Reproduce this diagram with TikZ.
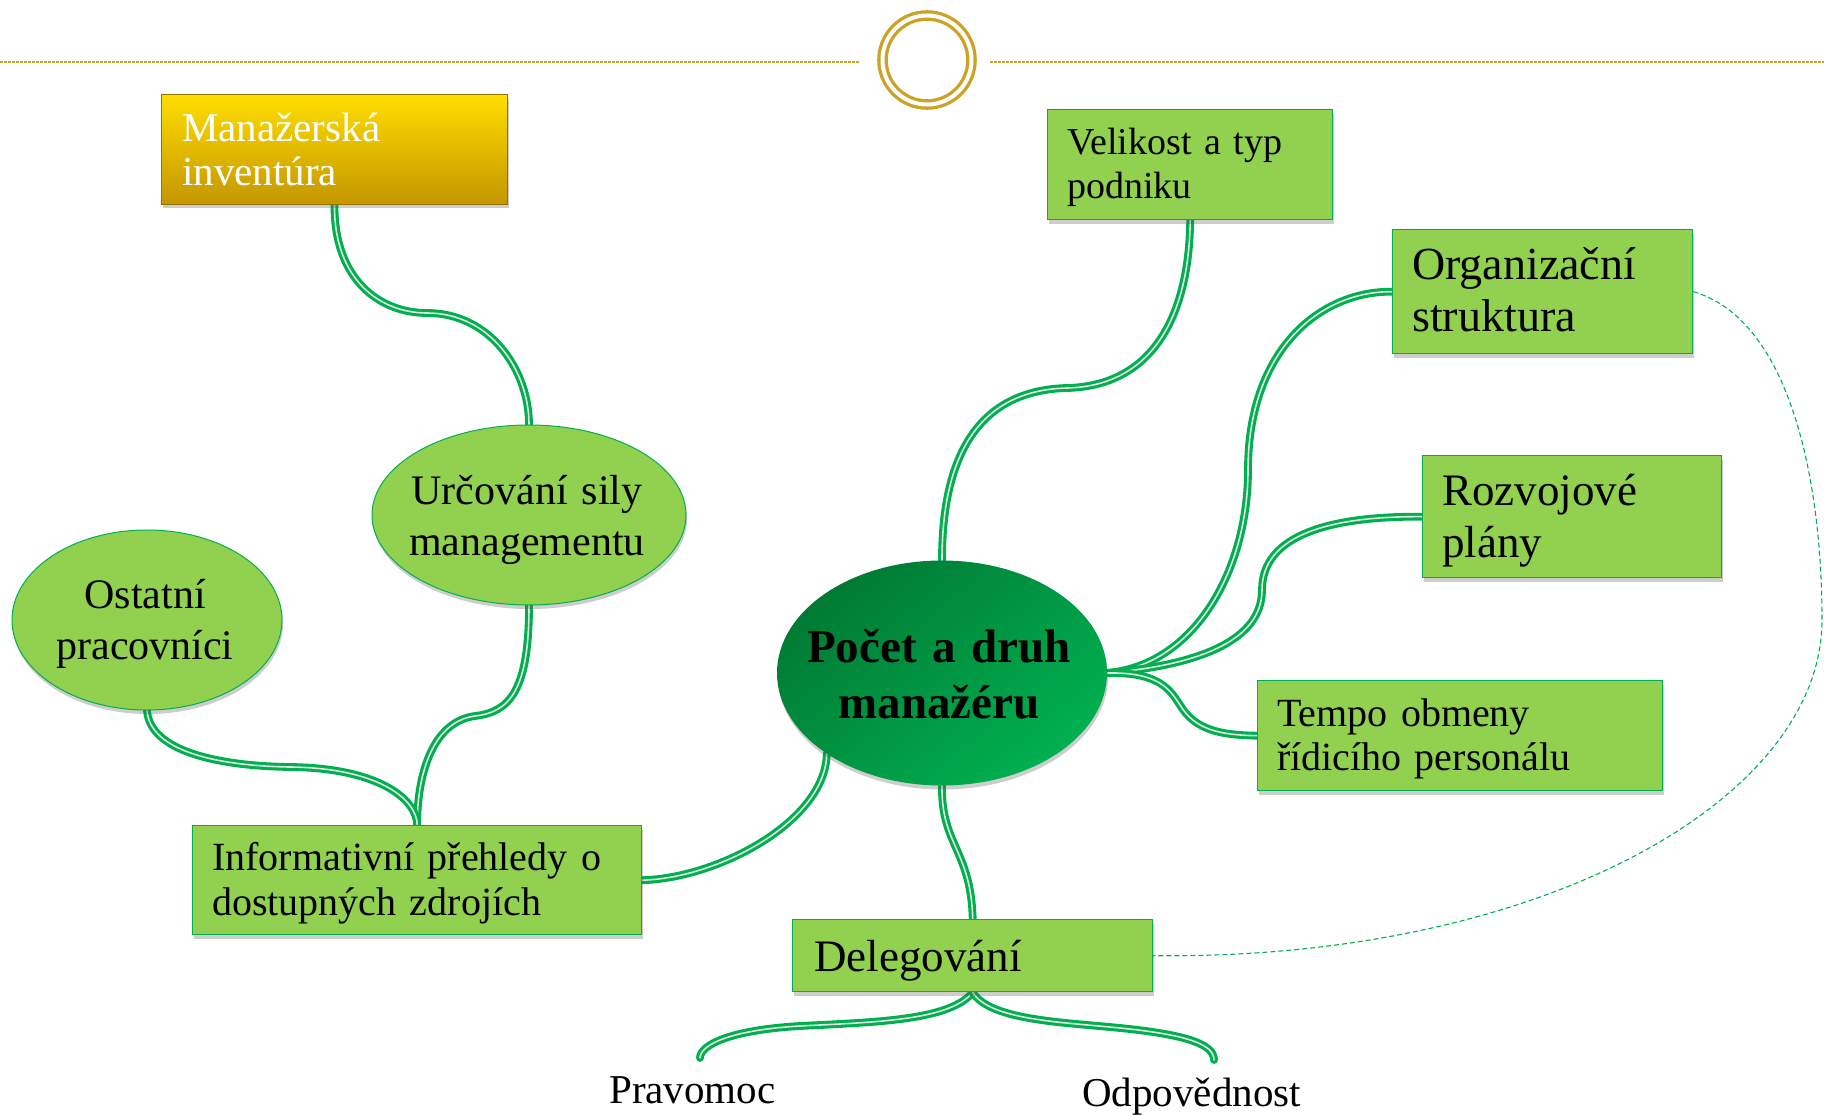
\documentclass[tikz,border=0pt]{standalone}
\usepackage{fontspec}
\setmainfont{Liberation Serif}
\usetikzlibrary{shapes.geometric,shadows}
\pgfdeclarelayer{paper}
\pgfdeclarelayer{stems}
\pgfsetlayers{paper,stems,main}

\definecolor{leaf}{RGB}{146,208,80}
\definecolor{stem}{RGB}{0,176,80}
\definecolor{hubdark}{RGB}{0,122,52}
\definecolor{gold}{RGB}{204,163,38}
\definecolor{goldtop}{RGB}{255,222,0}
\definecolor{goldbot}{RGB}{196,150,0}
\definecolor{goldedge}{RGB}{150,115,0}
\definecolor{vein}{RGB}{224,228,224}

\newcommand\setfs[2]{\fontsize{#1}{#2}\selectfont}

\begin{document}
\begin{tikzpicture}[x=1pt,y=-1pt,
  softshadow/.style={drop shadow={shadow xshift=1pt,shadow yshift=-4pt,opacity=.28,fill=black!70}},
  leafbox/.style={rectangle,draw=stem,line width=1.4pt,fill=leaf,inner sep=0pt,anchor=north west,softshadow},
  goldbox/.style={rectangle,draw=goldedge,line width=1pt,top color=goldtop,bottom color=goldbot,inner sep=0pt,anchor=north west,softshadow},
  leafoval/.style={ellipse,draw=stem,line width=1pt,fill=leaf,inner sep=0pt,softshadow},
  huboval/.style={ellipse,inner sep=0pt,top color=hubdark,bottom color=stem,shading angle=40,softshadow},
  lefttext/.style={inner sep=0pt,align=left,anchor=base west},
  midtext/.style={inner sep=0pt,align=center,anchor=base},
  branch/.style={draw=vein,line width=1.6pt,line cap=round,preaction={draw=stem,line width=7.8pt,line cap=round}},
  crosslink/.style={draw=stem,line width=1.1pt,dash pattern=on 5pt off 3pt},
  goldrule/.style={draw=gold,line width=2.4pt,dash pattern=on 3pt off 1pt}
]
\begin{pgfonlayer}{paper}
  \fill[white] (0,0) rectangle (1824,1115);
\end{pgfonlayer}
\useasboundingbox (0,0) rectangle (1824,1115);

% header rule with the ring ornament
\node[circle,draw=gold,line width=3.3pt,double=white,double distance=4pt,minimum size=89pt,inner sep=0pt] (ring) at (927,60) {};
\coordinate (ruleL0) at (0,62);
\coordinate (ruleL1) at (860,62);
\coordinate (ruleR0) at (990,62);
\coordinate (ruleR1) at (1824,62);
\draw[goldrule] (ruleL0) -- (ruleL1);
\draw[goldrule] (ruleR0) -- (ruleR1);

% boxes
\node[goldbox,minimum width=346pt,minimum height=110pt] (mi) at (161,94) {};
\node[lefttext,text width=320pt,text=white,font=\setfs{41}{44}] (miT) at (182,142) {Manažerská\\inventúra};

\node[leafbox,minimum width=285pt,minimum height=110pt] (vel) at (1047,109) {};
\node[lefttext,text width=260pt,font=\setfs{38}{44}] (velT) at (1067,155) {Velikost a typ\\podniku};

\node[leafbox,minimum width=300pt,minimum height=124pt] (org) at (1392,229) {};
\node[lefttext,text width=280pt,font=\setfs{46}{52}] (orgT) at (1412,280) {Organizační\\struktura};

\node[leafbox,minimum width=299pt,minimum height=122pt] (roz) at (1422,455) {};
\node[lefttext,text width=270pt,font=\setfs{45}{52}] (rozT) at (1442,505) {Rozvojové\\plány};

\node[leafbox,minimum width=405pt,minimum height=110pt] (tem) at (1257,680) {};
\node[lefttext,text width=385pt,font=\setfs{40}{44}] (temT) at (1277,726) {Tempo obmeny\\řídicího personálu};

\node[leafbox,minimum width=449pt,minimum height=109pt] (inf) at (192,825) {};
\node[lefttext,text width=430pt,font=\setfs{40}{45}] (infT) at (212,870) {Informativní přehledy o\\dostupných zdrojích};

\node[leafbox,minimum width=360pt,minimum height=72pt] (del) at (792,919) {};
\node[lefttext,text width=330pt,font=\setfs{45}{52}] (delT) at (814,971) {Delegování};

% ovals
\node[leafoval,minimum width=270pt,minimum height=180pt] (ost) at (147,620) {};
\node[midtext,text width=250pt,font=\setfs{42}{51}] (ostT) at (145,608) {Ostatní\\pracovníci};

\node[leafoval,minimum width=314pt,minimum height=180pt] (urc) at (529,515) {};
\node[midtext,text width=300pt,font=\setfs{42}{51}] (urcT) at (527,504) {Určování sily\\managementu};

\node[huboval,minimum width=330pt,minimum height=225pt] (hub) at (942,673) {};
\node[midtext,text width=320pt,font=\bfseries\setfs{47}{56}] (hubT) at (939,662) {Počet a druh\\manažéru};

% leaf labels without frames
\node[lefttext,font=\setfs{41}{48}] (prav) at (609,1103) {Pravomoc};
\node[lefttext,font=\setfs{41}{48}] (odp) at (1082,1106) {Odpovědnost};
\coordinate (pravEnd) at (700,1058);
\coordinate (odpEnd) at (1214,1060);

% connectors
\begin{pgfonlayer}{stems}
\draw[branch] (mi.south) .. controls (334,280) and (380,313) .. (427,313)
  .. controls (490,313) and (529,370) .. (urc.north);
\draw[branch] (urc.south) .. controls (529,690) and (510,712) .. (475,716)
  .. controls (430,722) and (417,780) .. (inf.north);
\draw[branch] (ost.south) .. controls (150,752) and (220,766) .. (290,767)
  .. controls (380,768) and (417,800) .. (inf.north);
\draw[branch] (inf.east) .. controls (720,878) and (826,820) .. (hub.215);
\draw[branch] (hub.north) .. controls (942,440) and (990,390) .. (1067,388)
  .. controls (1150,386) and (1189,320) .. (vel.south);
\draw[branch] (hub.east) .. controls (1195,665) and (1248,570) .. (1248,470)
  .. controls (1248,350) and (1320,291) .. (org.west);
\draw[branch] (hub.east) .. controls (1200,665) and (1262,640) .. (1262,590)
  .. controls (1262,535) and (1330,516) .. (roz.west);
\draw[branch] (hub.east) .. controls (1160,672) and (1170,690) .. (1180,705)
  .. controls (1195,730) and (1220,735) .. (tem.west);
\draw[branch] (hub.south) .. controls (941,845) and (971,850) .. (del.north);
\draw[branch] (del.south) .. controls (950,1020) and (880,1022) .. (800,1026)
  .. controls (730,1030) and (700,1045) .. (pravEnd);
\draw[branch] (del.south) .. controls (990,1020) and (1060,1022) .. (1120,1028)
  .. controls (1190,1035) and (1214,1045) .. (odpEnd);
\draw[crosslink] (org.east) .. controls (1790,320) and (1822,480) .. (1822,620)
  .. controls (1822,800) and (1540,960) .. (del.east);
\end{pgfonlayer}
\end{tikzpicture}
\end{document}
